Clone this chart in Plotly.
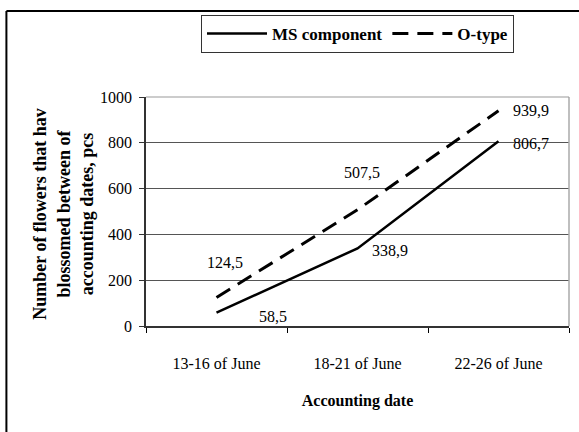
import plotly.graph_objects as go

# Flowering counts per accounting period
dates = ["13-16 of June", "18-21 of June", "22-26 of June"]
ms_component = [58.5, 338.9, 806.7]
o_type = [124.5, 507.5, 939.9]
y_ticks = [0, 200, 400, 600, 800, 1000]

# label offsets (px) for each value, relative to its point
ms_offsets = [(56, -4), (32, -2), (32, -2)]
o_offsets = [(8, 35), (4, 37), (32, 0)]

FONT = "Liberation Serif, Times New Roman, serif"


def fmt(v):
    return f"{v:.1f}".replace(".", ",")


fig = go.Figure()
fig.add_trace(go.Scatter(
    x=dates, y=ms_component, mode="lines", name="MS component",
    line=dict(color="black", width=2.5),
))
fig.add_trace(go.Scatter(
    x=dates, y=o_type, mode="lines", name="O-type",
    line=dict(color="black", width=3, dash="16px,9px"),
))

annotations = []
for series, offsets in ((ms_component, ms_offsets), (o_type, o_offsets)):
    for d, v, (dx, dy) in zip(dates, series, offsets):
        annotations.append(dict(
            x=d, y=v, xref="x", yref="y", text=fmt(v), showarrow=False,
            xshift=dx, yshift=dy, font=dict(family=FONT, size=16, color="black"),
        ))

# y-axis title, three lines
annotations.append(dict(
    x=0, y=0.49, xref="paper", yref="paper", xshift=-82,
    text="<b>Number of flowers that hav<br>blossomed between of<br>accounting dates, pcs</b>",
    textangle=-90, showarrow=False, xanchor="center", yanchor="middle",
    font=dict(family=FONT, size=18, color="black"),
))

fig.update_layout(
    width=579, height=432,
    margin=dict(l=146, r=10, t=97, b=106),
    paper_bgcolor="white", plot_bgcolor="white",
    font=dict(family=FONT, size=16, color="black"),
    showlegend=True,
    legend=dict(
        orientation="h", x=0.5, xanchor="center", y=1.358, yanchor="top",
        bordercolor="#333", borderwidth=1, bgcolor="white",
        font=dict(family=FONT, size=17, color="black", weight="bold"),
        itemwidth=60,
    ),
    xaxis=dict(
        type="category", range=[-0.5, 2.5], tickson="boundaries",
        ticks="outside", ticklen=5,
        tickcolor="black", showline=True, linecolor="#333", linewidth=1.5,
        showgrid=False, ticklabelstandoff=22,
        title=dict(text="<b>Accounting date</b>", standoff=24,
                   font=dict(family=FONT, size=16)),
    ),
    yaxis=dict(
        range=[0, 1000], tickvals=y_ticks, ticks="outside", ticklen=5,
        tickcolor="#333", showline=True, linecolor="#333", linewidth=1.5,
        showgrid=True, gridcolor="#555", gridwidth=1, zeroline=False,
        ticklabelstandoff=4,
    ),
    annotations=annotations,
    shapes=[
        # right edge of the plot frame
        dict(type="line", xref="paper", yref="paper", x0=1, x1=1, y0=0, y1=1,
             line=dict(color="#aaa", width=1.5)),
        # top edge of the plot frame
        dict(type="line", xref="paper", yref="paper", x0=0, x1=1, y0=1, y1=1,
             line=dict(color="#999", width=1)),
        # outer figure border (left and top)
        dict(type="line", xref="paper", yref="paper", x0=-0.330, x1=-0.330,
             y0=1.376, y1=-0.5, line=dict(color="black", width=2)),
        dict(type="line", xref="paper", yref="paper", x0=-0.330, x1=1.1,
             y0=1.376, y1=1.376, line=dict(color="black", width=2)),
    ],
)

fig.write_html("out.html")
